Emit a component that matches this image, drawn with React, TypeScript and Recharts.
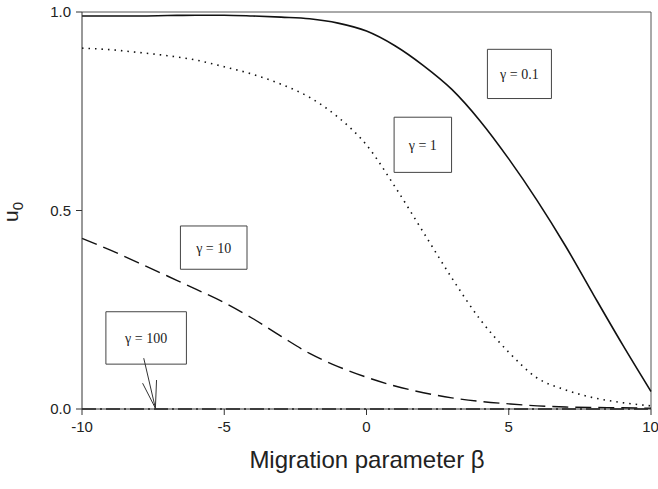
import {
  Line,
  LineChart,
  ReferenceArea,
  ReferenceLine,
  XAxis,
  YAxis,
} from "recharts";

// β grid and u0 curves
const beta = [-10, -9, -8, -7, -6, -5, -4, -3, -2, -1, 0, 1, 2, 3, 4, 5, 6, 7, 8, 9, 10];
const gamma01 = [0.99, 0.99, 0.99, 0.991, 0.992, 0.992, 0.99, 0.987, 0.983, 0.972, 0.952, 0.915, 0.865, 0.805, 0.725, 0.63, 0.525, 0.41, 0.285, 0.162, 0.044];
const gamma1 = [0.909, 0.905, 0.898, 0.89, 0.879, 0.862, 0.843, 0.818, 0.785, 0.735, 0.665, 0.56, 0.445, 0.33, 0.225, 0.143, 0.078, 0.048, 0.028, 0.016, 0.008];
const gamma10 = [0.43, 0.4, 0.368, 0.335, 0.302, 0.268, 0.228, 0.183, 0.14, 0.107, 0.08, 0.058, 0.041, 0.028, 0.019, 0.013, 0.008, 0.005, 0.004, 0.003, 0.002];
const gamma100 = [0, 0, 0, 0, 0, 0, 0, 0, 0, 0, 0, 0, 0, 0, 0, 0, 0, 0, 0, 0, 0];

const xTicks = [-10, -5, 0, 5, 10];
const yTicks = [0, 0.5, 1];

// annotation boxes in data units
const boxes = [
  { label: "γ = 0.1", x1: 4.25, x2: 6.5, y1: 0.782, y2: 0.906 },
  { label: "γ = 1", x1: 0.97, x2: 2.99, y1: 0.596, y2: 0.735 },
  { label: "γ = 10", x1: -6.54, x2: -4.2, y1: 0.352, y2: 0.461 },
  { label: "γ = 100", x1: -9.16, x2: -6.33, y1: 0.113, y2: 0.245 },
];

const toSeries = (ys: number[]) => beta.map((b, i) => ({ beta: b, u: ys[i] }));

const tickStyle = { fontFamily: "Liberation Sans, Arial, sans-serif", fontSize: 15, fill: "#222" };

const YLabel = () => (
  <text
    x={18}
    y={212}
    transform="rotate(-90, 18, 212)"
    textAnchor="middle"
    fontFamily="Liberation Sans, Arial, sans-serif"
    fontSize={21}
    fill="#222"
  >
    u
    <tspan dy={5} fontSize={15}>
      0
    </tspan>
  </text>
);

const XLabel = () => (
  <text
    x={367}
    y={468}
    textAnchor="middle"
    fontFamily="Liberation Sans, Arial, sans-serif"
    fontSize={24}
    fill="#222"
  >
    Migration parameter β
  </text>
);

export default function App() {
  return (
    <div style={{ width: 658, height: 489, background: "#fff" }}>
      <style>{"body{margin:0}"}</style>
      <LineChart width={658} height={489} margin={{ top: 12, right: 7, left: 0, bottom: 0 }}>
        <XAxis
          type="number"
          dataKey="beta"
          domain={[-10, 10]}
          ticks={xTicks}
          height={80}
          tick={tickStyle}
          tickSize={6}
          tickMargin={6}
          stroke="#333"
          allowDuplicatedCategory={false}
          label={<XLabel />}
        />
        <YAxis
          type="number"
          dataKey="u"
          domain={[0, 1]}
          ticks={yTicks}
          width={82}
          tick={tickStyle}
          tickSize={6}
          tickMargin={5}
          tickFormatter={(v: number) => v.toFixed(1)}
          stroke="#333"
          label={<YLabel />}
        />
        <ReferenceLine y={1} stroke="#555" />
        <ReferenceLine x={10} stroke="#555" />
        {boxes.map((b) => (
          <ReferenceArea
            key={b.label}
            x1={b.x1}
            x2={b.x2}
            y1={b.y1}
            y2={b.y2}
            fill="#fff"
            fillOpacity={1}
            stroke="#444"
            strokeWidth={1}
            label={{
              value: b.label,
              position: "center",
              fontFamily: "Liberation Serif, Times New Roman, serif",
              fontSize: 14,
              fill: "#222",
            }}
          />
        ))}
        <ReferenceLine segment={[{ x: -7.83, y: 0.128 }, { x: -7.42, y: 0.002 }]} stroke="#333" />
        <ReferenceLine segment={[{ x: -7.87, y: 0.065 }, { x: -7.42, y: 0.002 }]} stroke="#333" />
        <ReferenceLine segment={[{ x: -7.38, y: 0.073 }, { x: -7.42, y: 0.002 }]} stroke="#333" />
        <Line
          data={toSeries(gamma01)}
          dataKey="u"
          type="monotone"
          stroke="#111"
          strokeWidth={1.6}
          dot={false}
          isAnimationActive={false}
        />
        <Line
          data={toSeries(gamma1)}
          dataKey="u"
          type="monotone"
          stroke="#111"
          strokeWidth={1.6}
          strokeDasharray="1.5 5"
          dot={false}
          isAnimationActive={false}
        />
        <Line
          data={toSeries(gamma10)}
          dataKey="u"
          type="monotone"
          stroke="#111"
          strokeWidth={1.4}
          strokeDasharray="16 7"
          dot={false}
          isAnimationActive={false}
        />
        <Line
          data={toSeries(gamma100)}
          dataKey="u"
          type="monotone"
          stroke="#111"
          strokeWidth={1.6}
          strokeDasharray="14 4 2 4"
          dot={false}
          isAnimationActive={false}
        />
      </LineChart>
    </div>
  );
}
